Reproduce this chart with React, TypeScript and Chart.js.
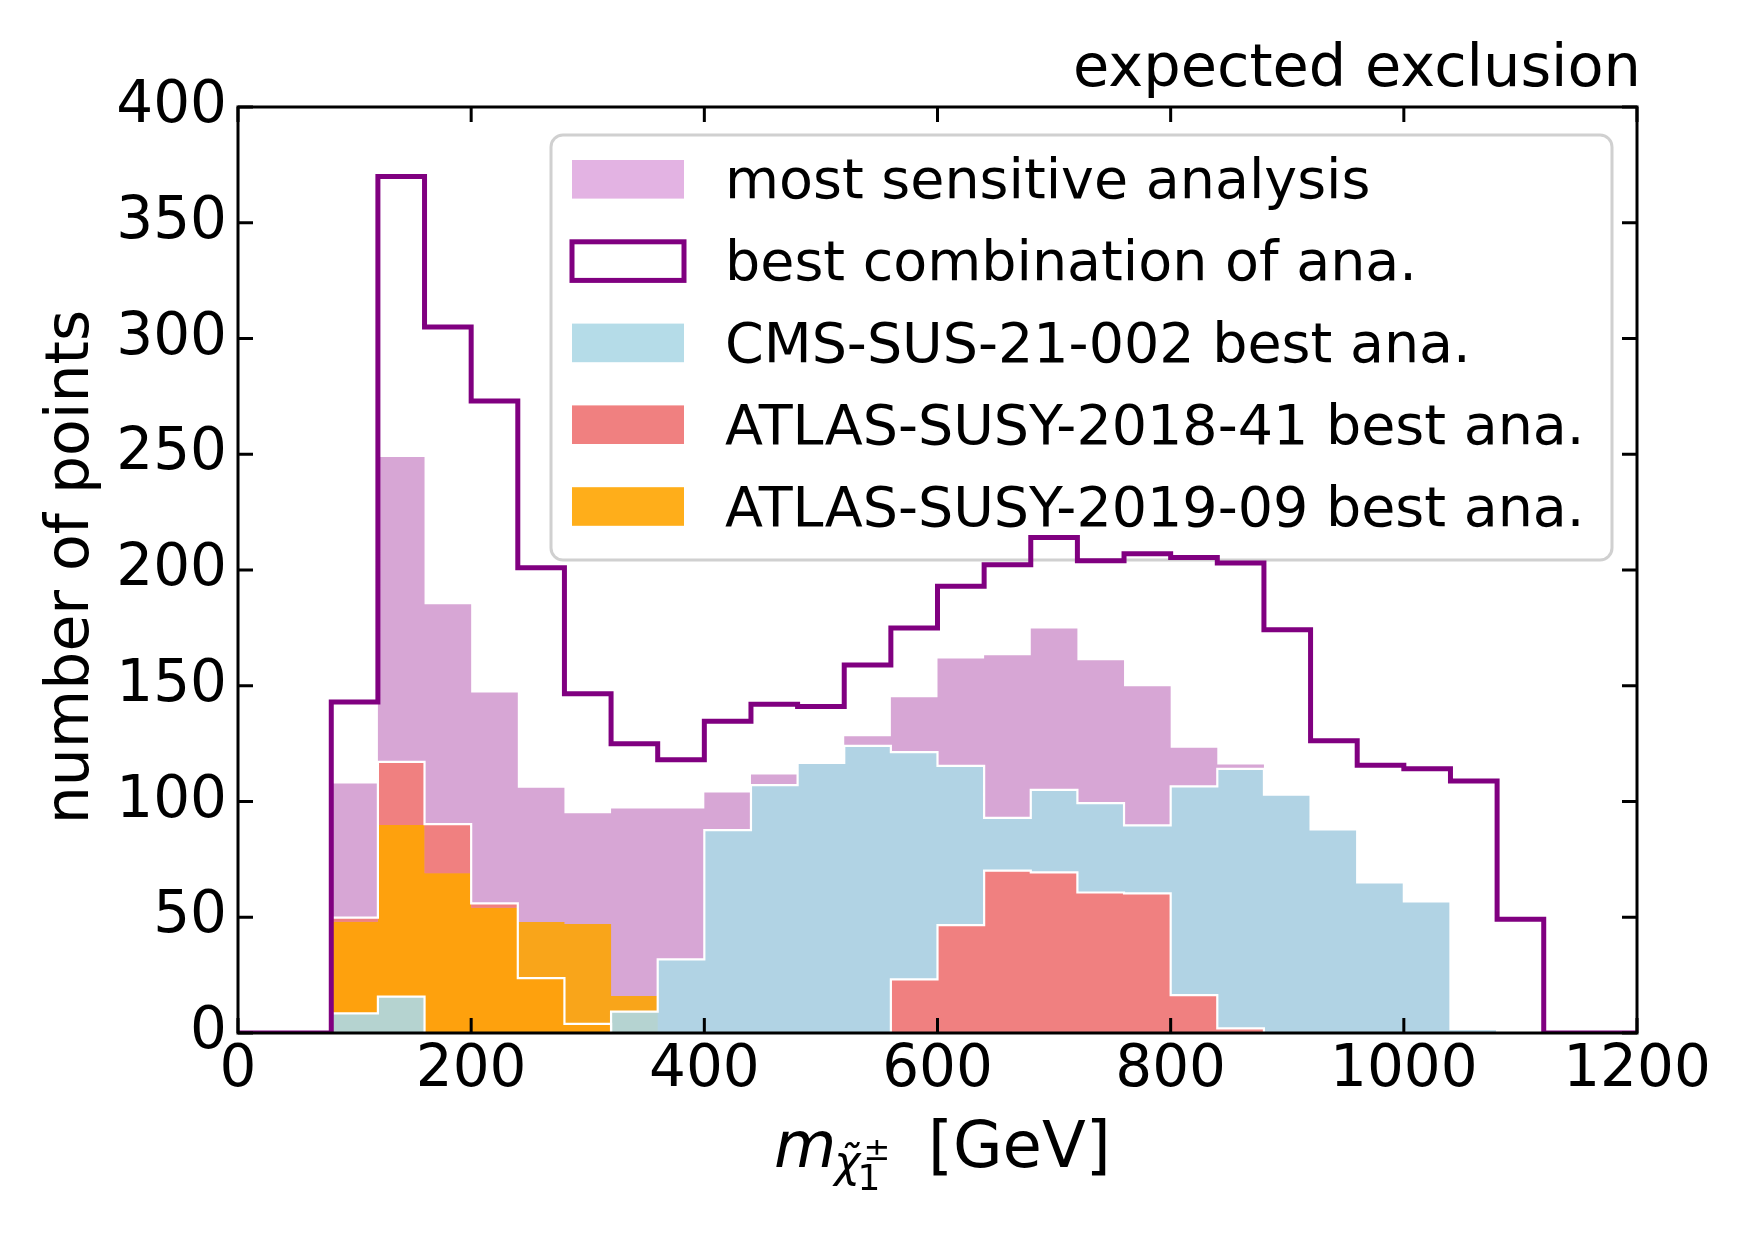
import { useEffect, useRef } from 'react';
import { Chart, registerables } from 'chart.js';

Chart.register(...registerables);

// lower edges of the 40 GeV bins
const binEdges = [0, 40, 80, 120, 160, 200, 240, 280, 320, 360, 400, 440, 480, 520, 560, 600, 640, 680, 720, 760, 800, 840, 880, 920, 960, 1000, 1040, 1080, 1120, 1160];
const xMax = 1200;

// step outline
const bestCombination = [0, 0, 143, 370, 305, 273, 201, 146.5, 125, 118, 134.7, 142, 141, 159, 175, 193, 202.3, 214, 204, 207, 205.4, 203, 174.2, 126.2, 115.7, 114.1, 108.9, 49.1, 0, 0];
// filled histograms
const mostSensitive = [0, 0, 107.8, 248.8, 185.2, 147.1, 105.9, 94.9, 97, 97, 103.9, 111.7, 116.5, 128.2, 145, 161.8, 163.2, 174.7, 161, 149.8, 123.2, 116, 103, 88, 65, 56.8, 1.7, 0, 0, 0];
const cmsSus21002 = [0, 0, 8.5, 15.7, 0, 0, 0, 0, 9.2, 31.8, 87.6, 107.1, 116.7, 124, 121.3, 115.4, 92.9, 105, 99.3, 89.7, 106.5, 114.1, 103, 88, 65.1, 56.8, 1.7, 0, 0, 0];
const atlasSusy201841 = [0, 0, 49.8, 117.1, 90.2, 56, 23.7, 3.9, 0, 0, 0, 0, 0, 0, 23.2, 46.6, 70.1, 69.4, 60.7, 60.3, 16.4, 2, 0, 0, 0, 0, 0, 0, 0, 0];
const atlasSusy201909Core = [0, 0, 48.1, 89.8, 69, 54.1, 23.7, 3.9, 0, 0, 0, 0, 0, 0, 0, 0, 0, 0, 0, 0, 0, 0, 0, 0, 0, 0, 0, 0, 0, 0];
const atlasSusy201909 = [0, 0, 48.1, 89.8, 69, 54.1, 48, 47.1, 16, 0, 0, 0, 0, 0, 0, 0, 0, 0, 0, 0, 0, 0, 0, 0, 0, 0, 0, 0, 0, 0];

const legendLabels = [
  'most sensitive analysis',
  'best combination of ana.',
  'CMS-SUS-21-002 best ana.',
  'ATLAS-SUSY-2018-41 best ana.',
  'ATLAS-SUSY-2019-09 best ana.',
];

const FONT = '"DejaVu Sans"';

// bins -> points for a step line (one point per lower edge plus the last edge)
const toSteps = (values: number[]) =>
  values.map((v, i) => ({ x: binEdges[i], y: v })).concat([{ x: xMax, y: values[values.length - 1] }]);

const legendPlugin = {
  id: 'boxLegend',
  beforeDatasetsDraw(chart: any) {
    const { ctx } = chart;
    ctx.save();
    // frame
    const x0 = 551, y0 = 135, w = 1061, h = 425, r = 12;
    ctx.beginPath();
    ctx.roundRect(x0, y0, w, h, r);
    ctx.fillStyle = '#ffffff';
    ctx.fill();
    ctx.lineWidth = 3;
    ctx.strokeStyle = '#d0d0d0';
    ctx.stroke();

    const swatches = ['#e3b3e3', null, '#b5dce8', '#f08080', '#ffae1a'];
    ctx.font = `55.5px ${FONT}`;
    ctx.textBaseline = 'alphabetic';
    ctx.textAlign = 'left';
    legendLabels.forEach((label, i) => {
      const cy = 179.3 + i * 81.8;
      const sw = swatches[i];
      if (sw) {
        ctx.fillStyle = sw;
        ctx.fillRect(572, cy - 19.3, 112, 38.6);
      } else {
        ctx.lineWidth = 5;
        ctx.strokeStyle = '#800080';
        ctx.strokeRect(572, cy - 19.3, 112, 38.6);
      }
      ctx.fillStyle = '#000';
      ctx.fillText(label, 725, cy + 19);
    });
    ctx.restore();
  },
};

const framePlugin = {
  id: 'frameTicks',
  afterDatasetsDraw(chart: any) {
    const { ctx, chartArea: a, scales } = chart;
    const len = 15;
    ctx.save();
    ctx.strokeStyle = '#000';
    ctx.lineWidth = 3;
    ctx.beginPath();
    scales.x.ticks.forEach((t: any) => {
      const px = scales.x.getPixelForValue(t.value);
      ctx.moveTo(px, a.bottom);
      ctx.lineTo(px, a.bottom - len);
      ctx.moveTo(px, a.top);
      ctx.lineTo(px, a.top + len);
    });
    scales.y.ticks.forEach((t: any) => {
      const py = scales.y.getPixelForValue(t.value);
      ctx.moveTo(a.left, py);
      ctx.lineTo(a.left + len, py);
      ctx.moveTo(a.right, py);
      ctx.lineTo(a.right - len, py);
    });
    ctx.stroke();
    ctx.strokeRect(a.left, a.top, a.right - a.left, a.bottom - a.top);
    ctx.restore();
  },
};

const textPlugin = {
  id: 'labels',
  afterDraw(chart: any) {
    const { ctx } = chart;
    ctx.save();
    ctx.fillStyle = '#000';
    ctx.textBaseline = 'alphabetic';

    // title, right aligned
    ctx.font = `59px ${FONT}`;
    ctx.textAlign = 'right';
    ctx.fillText('expected exclusion', 1641, 86);

    // y axis title
    ctx.save();
    ctx.translate(88, 567);
    ctx.rotate(-Math.PI / 2);
    ctx.textAlign = 'center';
    ctx.font = `60px ${FONT}`;
    ctx.fillText('number of points', 0, 0);
    ctx.restore();

    // x axis title: m_{chi~_1^pm} [GeV]
    ctx.textAlign = 'left';
    let x = 774;
    ctx.font = `italic 64px ${FONT}`;
    ctx.fillText('m', x, 1167);
    x += ctx.measureText('m').width;
    ctx.font = `italic 44px ${FONT}`;
    ctx.fillText('\u03c7\u0303', x - 2, 1177);
    x += ctx.measureText('\u03c7').width - 2;
    ctx.font = `36px ${FONT}`;
    ctx.fillText('1', x - 3, 1190);
    ctx.font = `32px ${FONT}`;
    ctx.fillText('\u00b1', x + 3, 1160);
    ctx.font = `64px ${FONT}`;
    ctx.fillText('[GeV]', 928, 1167);
    ctx.restore();
  },
};

export default function App() {
  const canvasRef = useRef<HTMLCanvasElement>(null);

  useEffect(() => {
    if (!canvasRef.current) return;
    const noLine = 'rgba(0,0,0,0)';
    const chart = new Chart(canvasRef.current, {
      type: 'line',
      data: {
        datasets: [
          {
            label: legendLabels[1],
            data: toSteps(bestCombination),
            stepped: true,
            fill: false,
            borderColor: '#800080',
            borderWidth: 5,
            pointRadius: 0,
            order: 1,
          },
          {
            label: legendLabels[0],
            data: toSteps(mostSensitive),
            stepped: true,
            fill: 'origin',
            backgroundColor: '#d7a6d5',
            borderColor: noLine,
            borderWidth: 0,
            pointRadius: 0,
            order: 6,
          },
          {
            label: legendLabels[4] + ' (other)',
            data: toSteps(atlasSusy201909),
            stepped: true,
            fill: 'origin',
            backgroundColor: '#f9a51a',
            borderColor: noLine,
            borderWidth: 0,
            pointRadius: 0,
            order: 5,
          },
          {
            label: legendLabels[4],
            data: toSteps(atlasSusy201909Core),
            stepped: true,
            fill: 'origin',
            backgroundColor: '#fea10d',
            borderColor: noLine,
            borderWidth: 0,
            pointRadius: 0,
            order: 4,
          },
          {
            label: legendLabels[2],
            data: toSteps(cmsSus21002),
            stepped: true,
            fill: 'origin',
            backgroundColor: 'rgba(173,216,230,0.9)',
            borderColor: '#ffffff',
            borderWidth: 2.2,
            pointRadius: 0,
            order: 3,
          },
          {
            label: legendLabels[3],
            data: toSteps(atlasSusy201841),
            stepped: true,
            fill: { target: 3, above: '#f08080', below: '#f08080' },
            backgroundColor: '#f08080',
            borderColor: '#ffffff',
            borderWidth: 2.2,
            pointRadius: 0,
            order: 2,
          },
        ],
      },
      options: {
        responsive: false,
        animation: false,
        events: [],
        layout: { padding: { left: 0, right: 113, top: 107, bottom: 0 } },
        plugins: {
          legend: { display: false },
          tooltip: { enabled: false },
          title: { display: false },
        },
        scales: {
          x: {
            type: 'linear',
            min: 0,
            max: xMax,
            border: { display: false },
            grid: { display: false, drawTicks: false },
            ticks: {
              stepSize: 200,
              autoSkip: false,
              maxRotation: 0,
              padding: 3,
              color: '#000',
              font: { family: FONT, size: 58 },
              callback: (v: any) => String(v),
            },
            afterFit: (scale: any) => {
              scale.height = 217;
            },
          },
          y: {
            type: 'linear',
            min: 0,
            max: 400,
            border: { display: false },
            grid: { display: false, drawTicks: false },
            ticks: {
              stepSize: 50,
              padding: 11,
              color: '#000',
              font: { family: FONT, size: 58 },
              callback: (v: any) => String(v),
            },
            afterFit: (scale: any) => {
              scale.width = 238;
            },
          },
        },
      },
      plugins: [legendPlugin, framePlugin, textPlugin],
    } as any);
    return () => chart.destroy();
  }, []);

  return (
    <div style={{ position: 'absolute', left: 0, top: 0, width: 1750, height: 1250, background: '#fff' }}>
      <canvas ref={canvasRef} width={1750} height={1250} style={{ width: 1750, height: 1250 }} />
    </div>
  );
}
